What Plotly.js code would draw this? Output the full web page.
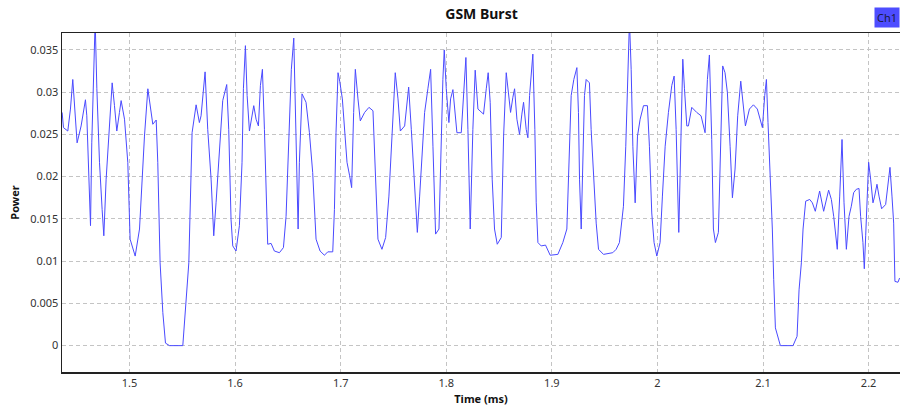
<!DOCTYPE html>
<html>
<head>
<meta charset="utf-8">
<script src="https://cdn.plot.ly/plotly-3.0.1.min.js"></script>
<style>
html,body{margin:0;padding:0;background:#fff;}
#chart{width:900px;height:410px;}
</style>
</head>
<body>
<div id="chart"></div>
<script>
// Time (ms)
const timeMs = [
1.4362,1.4375,1.4416,1.4441,1.4463,1.4479,1.4504,1.4542,1.4583,1.4596,1.4615,1.4631,1.4643,1.4662,1.4675,1.4691,1.4716,1.4741,1.4757,1.4779,1.4811,1.4836,1.4858,1.4880,1.4905,1.4921,1.4953,1.4984,
1.5006,1.5054,1.5095,1.5142,1.5174,1.5205,1.5221,1.5253,1.5268,1.5290,1.5316,1.5341,1.5379,1.5505,1.5530,1.5562,1.5593,1.5631,
1.5662,1.5678,1.5716,1.5741,1.5773,1.5798,1.5820,1.5852,1.5883,1.5921,1.5940,1.5962,1.5978,1.6009,1.6041,1.6066,1.6079,1.6098,1.6114,1.6136,1.6158,1.6177,1.6199,1.6221,1.6240,1.6259,1.6278,1.6294,1.6309,1.6341,1.6372,1.6420,1.6458,1.6483,1.6508,1.6533,1.6556,1.6578,1.6597,1.6609,1.6634,1.6672,1.6704,1.6735,1.6767,1.6805,1.6846,1.6878,1.6925,1.6941,1.6956,1.6975,
1.6991,1.7016,1.7038,1.7060,1.7085,1.7104,1.7123,1.7139,1.7164,1.7186,1.7227,1.7268,1.7306,1.7328,1.7353,1.7391,1.7426,1.7457,1.7489,1.7517,1.7543,1.7565,1.7606,1.7644,1.7669,1.7700,1.7726,1.7748,1.7795,1.7826,1.7852,1.7874,1.7899,1.7931,1.7946,1.7968,1.7981,1.8000,1.8025,1.8041,1.8063,1.8079,1.8101,1.8142,1.8164,1.8186,1.8205,1.8227,1.8252,1.8274,1.8300,
1.8353,1.8379,1.8397,1.8416,1.8435,1.8457,1.8483,1.8521,1.8543,1.8568,1.8590,1.8609,1.8631,1.8647,1.8669,1.8694,1.8716,1.8732,1.8757,1.8773,1.8789,1.8804,1.8820,1.8839,1.8852,1.8868,1.8899,1.8940,1.8984,1.9057,1.9104,1.9142,1.9161,1.9183,1.9208,1.9237,1.9252,1.9262,1.9278,1.9293,1.9309,1.9325,1.9356,1.9372,1.9394,1.9420,1.9442,1.9489,1.9577,1.9609,1.9640,
1.9678,1.9700,1.9719,1.9735,1.9751,1.9767,1.9789,1.9811,1.9836,1.9868,1.9905,1.9924,1.9946,1.9968,1.9994,2.0025,2.0047,2.0073,2.0104,2.0136,2.0158,2.0177,2.0202,2.0221,2.0240,2.0256,2.0278,2.0293,2.0325,2.0372,2.0413,2.0451,2.0473,2.0492,2.0514,2.0530,2.0549,2.0577,2.0593,2.0618,2.0640,2.0662,2.0688,2.0710,2.0735,2.0760,2.0789,2.0808,2.0833,2.0871,2.0909,2.0946,2.0972,
2.0994,2.1016,2.1032,2.1047,2.1069,2.1088,2.1101,2.1117,2.1164,2.1284,2.1322,2.1341,2.1363,2.1379,2.1404,2.1442,2.1467,2.1495,2.1536,2.1574,2.1621,2.1647,2.1669,2.1688,2.1703,2.1726,2.1748,2.1767,2.1789,2.1814,2.1836,2.1858,2.1883,2.1909,2.1924,2.1946,2.1959,2.1972,2.1984,2.2000,2.2019,2.2041,2.2057,2.2079,2.2098,2.2123,2.2161,2.2183,2.2202,2.2221,2.2237,2.2249,2.2278,2.2293
];
// Power
const power = [
0.0276,0.0258,0.0254,0.0280,0.0315,0.0285,0.0240,0.0260,0.0291,0.0272,0.0205,0.0142,0.0240,0.0351,0.0385,0.0304,0.0217,0.0161,0.0130,0.0197,0.0256,0.0311,0.0284,0.0254,0.0276,0.0290,0.0268,0.0217,
0.0126,0.0106,0.0138,0.0248,0.0304,0.0272,0.0262,0.0267,0.0217,0.0098,0.0039,0.0003,0.0000,0.0000,0.0047,0.0098,0.0252,0.0285,
0.0264,0.0272,0.0324,0.0256,0.0197,0.0130,0.0169,0.0236,0.0290,0.0309,0.0256,0.0149,0.0118,0.0112,0.0142,0.0217,0.0304,0.0355,0.0296,0.0254,0.0272,0.0284,0.0268,0.0260,0.0308,0.0327,0.0256,0.0177,0.0120,0.0121,0.0112,0.0110,0.0116,0.0153,0.0236,0.0327,0.0364,0.0236,0.0138,0.0217,0.0298,0.0288,0.0252,0.0205,0.0126,0.0112,0.0107,0.0111,0.0111,0.0161,0.0252,0.0323,
0.0313,0.0292,0.0252,0.0217,0.0201,0.0187,0.0276,0.0327,0.0292,0.0266,0.0276,0.0282,0.0278,0.0197,0.0126,0.0114,0.0128,0.0177,0.0256,0.0323,0.0292,0.0254,0.0260,0.0306,0.0256,0.0189,0.0134,0.0177,0.0276,0.0304,0.0327,0.0236,0.0132,0.0138,0.0217,0.0315,0.0350,0.0304,0.0264,0.0292,0.0303,0.0284,0.0252,0.0252,0.0292,0.0341,0.0256,0.0138,0.0256,0.0326,0.0280,
0.0274,0.0304,0.0323,0.0288,0.0197,0.0138,0.0120,0.0128,0.0248,0.0323,0.0296,0.0276,0.0294,0.0304,0.0268,0.0250,0.0274,0.0288,0.0256,0.0246,0.0296,0.0323,0.0345,0.0256,0.0169,0.0122,0.0118,0.0119,0.0107,0.0108,0.0122,0.0138,0.0209,0.0296,0.0315,0.0329,0.0276,0.0197,0.0138,0.0217,0.0296,0.0315,0.0311,0.0256,0.0205,0.0145,0.0114,0.0108,0.0110,0.0114,0.0122,
0.0165,0.0236,0.0327,0.0385,0.0327,0.0236,0.0169,0.0248,0.0268,0.0284,0.0284,0.0236,0.0157,0.0122,0.0106,0.0122,0.0177,0.0236,0.0276,0.0308,0.0319,0.0256,0.0134,0.0228,0.0339,0.0304,0.0260,0.0260,0.0282,0.0276,0.0272,0.0252,0.0315,0.0344,0.0244,0.0138,0.0122,0.0134,0.0217,0.0331,0.0323,0.0300,0.0236,0.0175,0.0209,0.0272,0.0313,0.0288,0.0260,0.0280,0.0285,0.0280,0.0268,
0.0258,0.0296,0.0315,0.0264,0.0201,0.0138,0.0078,0.0021,0.0000,0.0000,0.0011,0.0066,0.0098,0.0138,0.0171,0.0173,0.0169,0.0159,0.0183,0.0159,0.0184,0.0173,0.0153,0.0130,0.0114,0.0177,0.0244,0.0169,0.0114,0.0153,0.0165,0.0181,0.0185,0.0186,0.0153,0.0122,0.0091,0.0130,0.0177,0.0217,0.0197,0.0169,0.0177,0.0191,0.0177,0.0162,0.0167,0.0193,0.0211,0.0177,0.0145,0.0076,0.0075,0.0080
];
const xTickVals = [1.5,1.6,1.7,1.8,1.9,2.0,2.1,2.2];
const yTickVals = [0,0.005,0.01,0.015,0.02,0.025,0.03,0.035];
const seriesName = 'Ch1';

const FONT = 'Noto Sans, DejaVu Sans, sans-serif';
const trace = {
  x: timeMs, y: power, type: 'scatter', mode: 'lines', name: seriesName,
  line: {color: '#4a4aff', width: 1}, showlegend: false, cliponaxis: true
};
const layout = {
  width: 900, height: 410,
  margin: {l: 62, r: 0, t: 33, b: 38},
  paper_bgcolor: '#ffffff', plot_bgcolor: '#ffffff',
  font: {family: FONT, size: 11, color: '#333'},
  title: {text: '<b>GSM Burst</b>', x: 0.535, xanchor: 'center', y: 0.965, yanchor: 'middle',
          font: {family: FONT, size: 14, color: '#111'}},
  xaxis: {
    range: [1.4361, 2.2297], tickvals: xTickVals, ticktext: xTickVals.map(v => String(v)),
    showgrid: true, gridcolor: '#c4c4c4', griddash: '4px,3px', gridwidth: 1,
    zeroline: false, showline: true, linecolor: '#222', linewidth: 1.5, mirror: true,
    ticks: '', ticklen: 0, tickfont: {family: FONT, size: 11, color: '#333'},
    title: {text: '<b>Time (ms)</b>', standoff: 6, font: {family: FONT, size: 11, color: '#111'}}
  },
  yaxis: {
    range: [-0.00312, 0.037], tickvals: yTickVals, ticktext: yTickVals.map(v => String(v)),
    showgrid: true, gridcolor: '#c4c4c4', griddash: '4px,3px', gridwidth: 1,
    zeroline: false, showline: true, linecolor: '#222', linewidth: 1.5, mirror: false,
    ticks: '', ticklen: 0, tickfont: {family: FONT, size: 11, color: '#333'},
    title: {text: '<b>Power</b>', standoff: 8, font: {family: FONT, size: 11, color: '#111'}}
  },
  annotations: [{
    xref: 'paper', yref: 'paper', x: 1, y: 1 + (33 - 17) / 339,
    xanchor: 'right', yanchor: 'middle', showarrow: false,
    text: seriesName, bgcolor: '#4d4dff', borderpad: 2,
    font: {family: FONT, size: 11, color: '#1a1a40'}
  }]
};
Plotly.newPlot('chart', [trace], layout, {staticPlot: true, displayModeBar: false});
</script>
</body>
</html>
